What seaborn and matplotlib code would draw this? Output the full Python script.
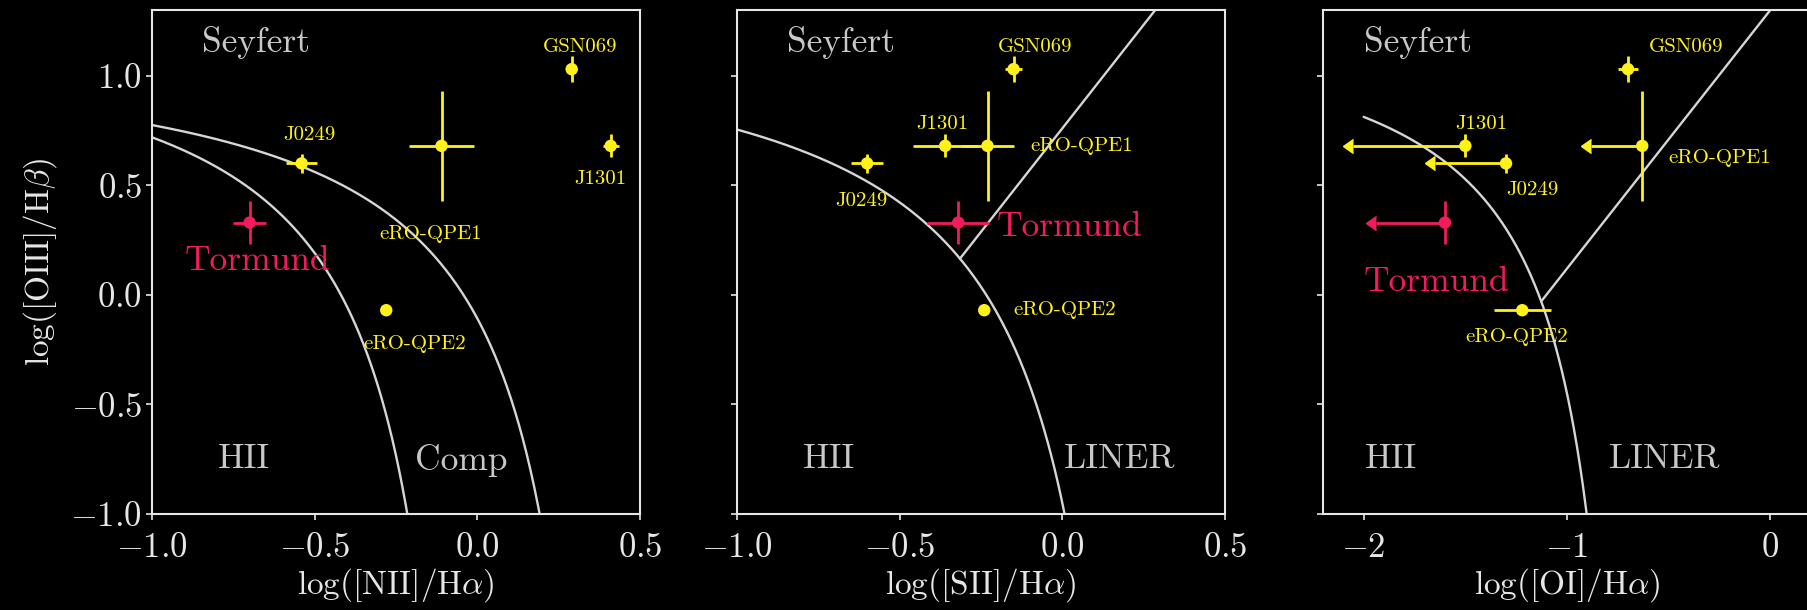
import numpy as np
import pandas as pd
import matplotlib
matplotlib.use("Agg")
import matplotlib.pyplot as plt
import seaborn as sns

# ---------------------------------------------------------------- data
sources = ["Tormund", "J0249", "eRO-QPE1", "GSN069", "J1301", "eRO-QPE2"]

# log([OIII]/Hbeta), shared by all three diagrams
o3hb = [0.33, 0.60, 0.68, 1.03, 0.68, -0.07]
o3hb_err = [0.10, 0.045, 0.25, 0.06, 0.053, 0.0]

# log([NII]/Halpha)
n2ha = [-0.70, -0.54, -0.11, 0.29, 0.41, -0.28]
n2ha_err = [0.05, 0.048, 0.10, 0.015, 0.025, 0.0]

# log([SII]/Halpha)
s2ha = [-0.32, -0.60, -0.23, -0.15, -0.36, -0.24]
s2ha_err = [0.095, 0.05, 0.08, 0.025, 0.10, 0.0]

# log([OI]/Halpha); most sources only have upper limits
o1ha = [-1.60, -1.30, -0.63, -0.70, -1.50, -1.22]
o1ha_err = [0.34, 0.35, 0.25, 0.05, 0.55, 0.14]
o1ha_upper = [True, True, True, False, True, False]

# ------------------------------------------------------------- styling
sns.set_theme(style="dark", rc={
    "figure.facecolor": "black", "axes.facecolor": "black",
    "savefig.facecolor": "black",
})
plt.rcParams["font.family"] = "serif"
plt.rcParams["font.serif"] = ["cmr10"]
plt.rcParams["mathtext.fontset"] = "cm"
plt.rcParams["axes.formatter.use_mathtext"] = True
plt.rcParams["axes.unicode_minus"] = True

WHITE = "#e6e6e6"
GREY = "#c8c8c8"
YELLOW = "#fff21a"
RED = "#f21b5b"
palette = {s: (RED if s == "Tormund" else YELLOW) for s in sources}

# label placement (data coords, centred) for each diagram
label_pos = {
    "n2": {"J0249": (-0.516, 0.73), "eRO-QPE1": (-0.142, 0.277),
           "GSN069": (0.317, 1.13), "J1301": (0.379, 0.53),
           "eRO-QPE2": (-0.193, -0.225), "Tormund": (-0.677, 0.153)},
    "s2": {"J0249": (-0.619, 0.43), "eRO-QPE1": (0.058, 0.68),
           "GSN069": (-0.085, 1.13), "J1301": (-0.37, 0.78),
           "eRO-QPE2": (0.008, -0.07), "Tormund": (0.022, 0.307)},
    "o1": {"J0249": (-1.168, 0.48), "eRO-QPE1": (-0.249, 0.626),
           "GSN069": (-0.413, 1.13), "J1301": (-1.42, 0.78),
           "eRO-QPE2": (-1.245, -0.19), "Tormund": (-1.644, 0.059)},
}
region_pos = {
    "n2": [("Seyfert", -0.68, 1.153), ("HII", -0.716, -0.75), ("Comp", -0.05, -0.758)],
    "s2": [("Seyfert", -0.68, 1.153), ("HII", -0.718, -0.75), ("LINER", 0.176, -0.75)],
    "o1": [("Seyfert", -1.734, 1.153), ("HII", -1.865, -0.75), ("LINER", -0.52, -0.75)],
}

# ------------------------------------------- classification boundaries
def kewley_n2(x):
    return 0.61 / (x - 0.47) + 1.19

def kauffmann_n2(x):
    return 0.61 / (x - 0.05) + 1.30

def kewley_s2(x):
    return 0.72 / (x - 0.32) + 1.30

def seyfert_liner_s2(x):
    return 1.89 * x + 0.76

def kewley_o1(x):
    return 0.73 / (x + 0.59) + 1.33

def seyfert_liner_o1(x):
    return 1.18 * x + 1.30

YLIM = (-1.0, 1.3)

fig = plt.figure(figsize=(18.08, 6.10), dpi=100)
lefts = [152 / 1808, 737 / 1808, 1323 / 1808]
axes = [fig.add_axes([l, 96 / 610, 488 / 1808, 504 / 610]) for l in lefts]


def boundary(ax, x, y):
    sns.lineplot(x=x, y=y, ax=ax, color="#d6d6d6", lw=1.7, sort=False,
                 estimator=None, zorder=1)


def draw_points(ax, x, xerr, upper=None):
    df = pd.DataFrame({"src": sources, "x": x, "y": o3hb,
                       "xerr": xerr, "yerr": o3hb_err})
    if upper is None:
        upper = [False] * len(sources)
    df["upper"] = upper
    for _, r in df.iterrows():
        c = palette[r.src]
        if r.upper:
            eb = ax.errorbar(r.x, r.y, xerr=r.xerr, xuplims=True, fmt="none",
                             ecolor=c, elinewidth=2.0, capsize=4.8, zorder=2)
            for cap in eb[1]:
                cap.set_color(c)
                cap.set_markerfacecolor(c)
                cap.set_markeredgecolor(c)
                cap.set_markersize(9.5)
                cap.set_zorder(2.5)
            ax.errorbar(r.x, r.y, yerr=r.yerr, fmt="none", ecolor=c,
                        elinewidth=2.0, capsize=0, zorder=2)
        else:
            ax.errorbar(r.x, r.y, xerr=r.xerr, yerr=r.yerr, fmt="none",
                        ecolor=c, elinewidth=2.0, capsize=0, zorder=2)
    sns.scatterplot(data=df, x="x", y="y", hue="src", palette=palette,
                    s=80, linewidth=0, legend=False, ax=ax, zorder=3)


def annotate(ax, key):
    for s, (tx, ty) in label_pos[key].items():
        if s == "Tormund":
            ax.text(tx, ty, s, color=RED, fontsize=25.5, ha="center", va="center")
        else:
            ax.text(tx, ty, s, color=YELLOW, fontsize=15, ha="center", va="center")
    for s, tx, ty in region_pos[key]:
        ax.text(tx, ty, s, color=GREY, fontsize=25.5, ha="center", va="center")


# [NII] diagram
ax = axes[0]
xa = np.linspace(-1.0, -0.215, 300)
boundary(ax, xa, kauffmann_n2(xa))
xb = np.linspace(-1.0, 0.191, 300)
boundary(ax, xb, kewley_n2(xb))
draw_points(ax, n2ha, n2ha_err)
annotate(ax, "n2")
ax.set_xlim(-1.0, 0.5)
ax.set_xticks([-1.0, -0.5, 0.0, 0.5])
ax.set_xlabel("log([NII]/H$\\alpha$)")
ax.set_ylabel("log([OIII]/H$\\beta$)")

# [SII] diagram
ax = axes[1]
xc = np.linspace(-1.0, 0.007, 300)
boundary(ax, xc, kewley_s2(xc))
xd = np.linspace(-0.315, (YLIM[1] - 0.76) / 1.89, 50)
boundary(ax, xd, seyfert_liner_s2(xd))
draw_points(ax, s2ha, s2ha_err)
annotate(ax, "s2")
ax.set_xlim(-1.0, 0.5)
ax.set_xticks([-1.0, -0.5, 0.0, 0.5])
ax.set_xlabel("log([SII]/H$\\alpha$)")

# [OI] diagram
ax = axes[2]
xe = np.linspace(-2.0, -0.903, 300)
boundary(ax, xe, kewley_o1(xe))
xf = np.linspace(-1.127, 0.0, 50)
boundary(ax, xf, seyfert_liner_o1(xf))
draw_points(ax, o1ha, o1ha_err, o1ha_upper)
annotate(ax, "o1")
ax.set_xlim(-2.2, 0.2)
ax.set_xticks([-2, -1, 0])
ax.set_xlabel("log([OI]/H$\\alpha$)")

for i, ax in enumerate(axes):
    ax.set_ylim(*YLIM)
    ax.set_yticks([-1.0, -0.5, 0.0, 0.5, 1.0])
    ax.grid(False)
    ax.set_facecolor("black")
    for sp in ax.spines.values():
        sp.set_color(WHITE)
        sp.set_linewidth(1.5)
        sp.set_visible(True)
    ax.tick_params(axis="both", direction="out", length=4, width=1.2,
                   color=WHITE, labelcolor=WHITE, labelsize=25,
                   bottom=True, left=True)
    ax.tick_params(axis="x", pad=9)
    ax.tick_params(axis="y", pad=3)
    ax.xaxis.label.set_color(WHITE)
    ax.xaxis.label.set_size(24)
    ax.xaxis.labelpad = 2
    if i > 0:
        ax.set_yticklabels([])
        ax.set_ylabel("")
    else:
        ax.yaxis.label.set_color(WHITE)
        ax.yaxis.label.set_size(24)
        ax.yaxis.labelpad = 8

fig.savefig("out.png", dpi=100, facecolor="black")
